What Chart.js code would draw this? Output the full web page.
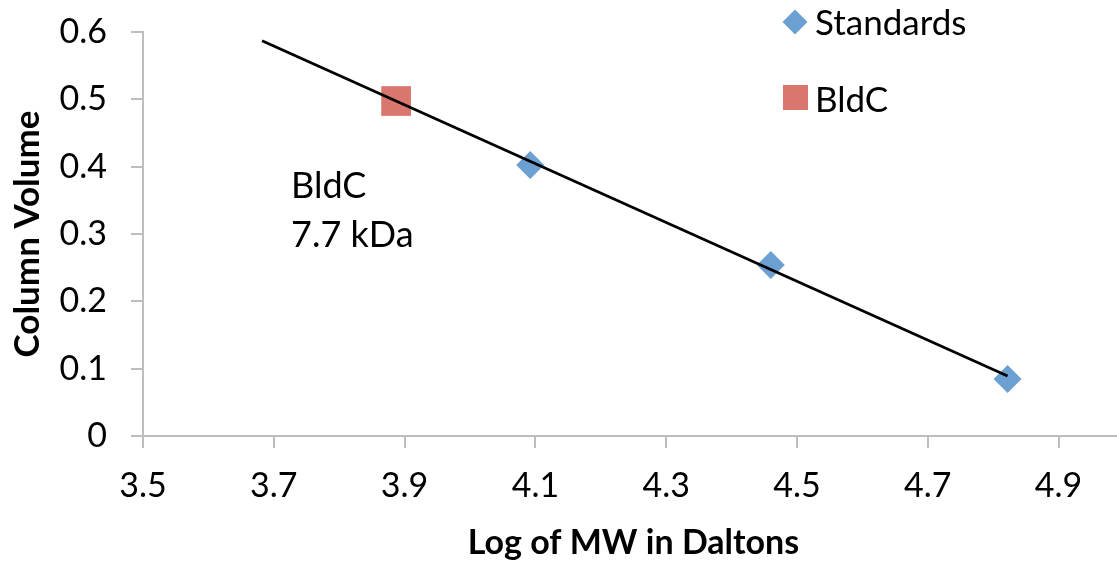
<!DOCTYPE html>
<html>
<head>
<meta charset="utf-8">
<script src="https://cdn.jsdelivr.net/npm/chart.js@4/dist/chart.umd.min.js"></script>
<style>
  html, body { margin: 0; padding: 0; background: #fff; overflow: hidden; }
  #wrap { width: 1145px; height: 565px; }
</style>
</head>
<body>
<div id="wrap"><canvas id="chart" width="1145" height="565"></canvas></div>
<script>
// 標準タンパク質（Log MW, Column Volume）
const standardsX = [4.092, 4.460, 4.822];
const standardsY = [0.4025, 0.254, 0.0847];

// BldC
const bldcX = [3.887];
const bldcY = [0.4975];

// 近似直線の両端
const trendX = [3.682, 4.822];
const trendY = [0.587, 0.089];

// 目盛り
const xTicks = [3.5, 3.7, 3.9, 4.1, 4.3, 4.5, 4.7, 4.9];
const yTicks = [0, 0.1, 0.2, 0.3, 0.4, 0.5, 0.6];

const BLUE = 'rgb(108,160,210)';
const RED = 'rgb(217,118,110)';
const AXIS = '#bdbdbd';
const FONT = 'Lato';

const toPoints = (xs, ys) => xs.map((x, i) => ({ x: x, y: ys[i] }));

/**
 * 凡例と注釈テキスト
 */
const extrasPlugin = {
  id: 'extras',
  afterDraw(chart) {
    const ctx = chart.ctx;
    ctx.save();

    // 凡例：Standards（ひし形）
    ctx.fillStyle = BLUE;
    ctx.beginPath();
    ctx.moveTo(795, 9.5);
    ctx.lineTo(807.5, 22);
    ctx.lineTo(795, 34.5);
    ctx.lineTo(782.5, 22);
    ctx.closePath();
    ctx.fill();

    // 凡例：BldC（四角）
    ctx.fillStyle = RED;
    ctx.fillRect(783, 85, 25, 25);

    ctx.fillStyle = '#000';
    ctx.textBaseline = 'alphabetic';
    ctx.textAlign = 'left';
    ctx.font = '35px ' + FONT;
    ctx.fillText('Standards', 815, 35);
    ctx.fillText('BldC', 815, 112);

    // 注釈
    ctx.font = '36px ' + FONT;
    ctx.fillText('BldC', 291, 198);
    ctx.fillText('7.7 kDa', 291, 247);

    ctx.restore();
  }
};

new Chart(document.getElementById('chart'), {
  type: 'scatter',
  data: {
    datasets: [
      {
        label: 'Standards',
        data: toPoints(standardsX, standardsY),
        pointStyle: 'rectRot',
        pointRadius: 14,
        pointHoverRadius: 14,
        backgroundColor: BLUE,
        borderWidth: 0,
        order: 2
      },
      {
        label: 'BldC',
        data: toPoints(bldcX, bldcY),
        pointStyle: 'rect',
        pointRadius: 21,
        pointHoverRadius: 21,
        backgroundColor: RED,
        borderWidth: 0,
        order: 1
      },
      {
        label: 'Trend',
        type: 'line',
        data: toPoints(trendX, trendY),
        borderColor: '#000',
        borderWidth: 2.8,
        pointRadius: 0,
        fill: false,
        order: 0
      }
    ]
  },
  options: {
    responsive: false,
    animation: false,
    events: [],
    layout: {
      padding: { top: 32, right: 15, left: 0, bottom: 0 }
    },
    plugins: {
      legend: { display: false },
      tooltip: { enabled: false }
    },
    scales: {
      x: {
        type: 'linear',
        min: 3.5,
        max: 5.0,
        afterBuildTicks: scale => { scale.ticks = xTicks.map(v => ({ value: v })); },
        afterFit: scale => {
          scale.height = 129;
          scale.paddingLeft = 0;
          scale.paddingRight = 0;
        },
        border: { color: AXIS, width: 2 },
        grid: {
          drawOnChartArea: false,
          drawTicks: true,
          tickLength: 12,
          color: AXIS,
          lineWidth: 2
        },
        ticks: {
          padding: 18,
          color: '#000',
          font: { family: FONT, size: 34 },
          maxRotation: 0,
          callback: v => v.toFixed(1)
        },
        title: {
          display: true,
          text: 'Log of MW in Daltons',
          color: '#000',
          font: { family: FONT, size: 34, weight: 'bold' },
          padding: { top: 0, bottom: 2 }
        }
      },
      y: {
        type: 'linear',
        min: 0,
        max: 0.6,
        afterBuildTicks: scale => { scale.ticks = yTicks.map(v => ({ value: v })); },
        afterFit: scale => {
          scale.width = 143;
          scale.paddingTop = 0;
          scale.paddingBottom = 0;
        },
        border: { color: AXIS, width: 2 },
        grid: {
          drawOnChartArea: false,
          drawTicks: true,
          tickLength: 12,
          color: AXIS,
          lineWidth: 2
        },
        ticks: {
          padding: 24,
          color: '#000',
          font: { family: FONT, size: 34 },
          callback: v => (v === 0 ? '0' : v.toFixed(1))
        },
        title: {
          display: true,
          text: 'Column Volume',
          color: '#000',
          font: { family: FONT, size: 35, weight: 'bold' },
          padding: { top: 7, bottom: 0 }
        }
      }
    }
  },
  plugins: [extrasPlugin]
});
</script>
</body>
</html>
